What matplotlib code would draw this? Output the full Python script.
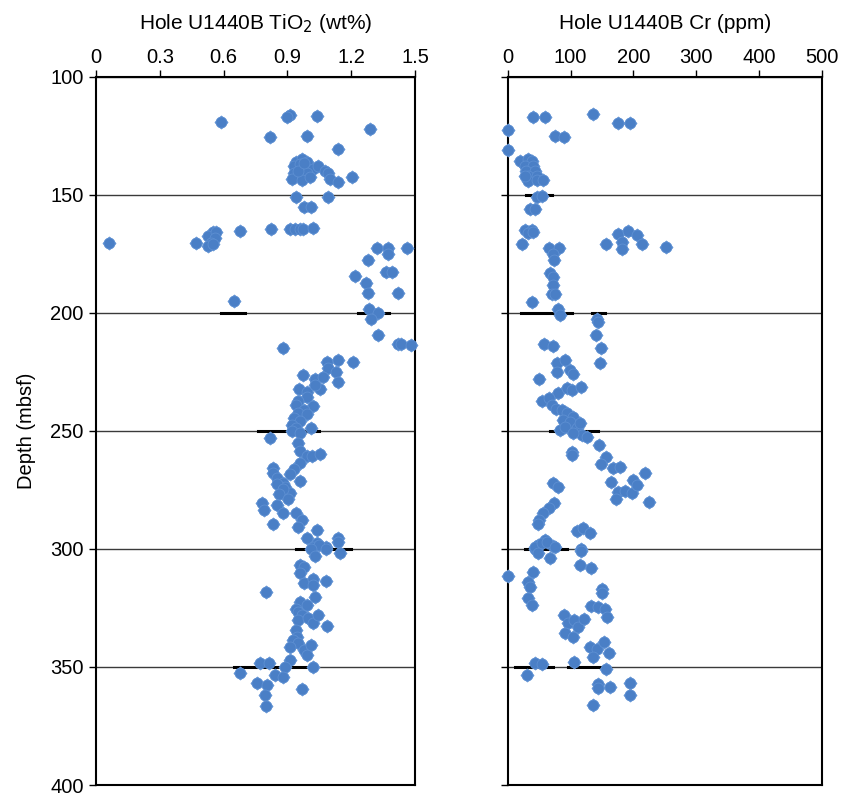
import matplotlib
matplotlib.use("Agg")
import matplotlib.pyplot as plt
from matplotlib.markers import MarkerStyle

plt.rcParams['font.family'] = ['Liberation Sans', 'DejaVu Sans']

# TiO2 samples: depth (mbsf), value (wt%)
ti_depth = [119.4, 116.3, 117, 116.6, 122.2, 125.8, 125, 130.7,
            136, 135, 136, 138, 137, 139, 139, 138, 140, 141, 141, 141.5, 141, 143.5, 144, 142.5, 143.5, 144.5, 142.5, 140, 136.5,
            150.9, 150.9, 155.4, 155.4,
            165.4, 164.7, 164.7, 164.7, 164.7, 164.4, 164,
            166, 167.5, 165.7, 168.3, 170.4, 171.8, 171, 170.6, 170.6,
            172.7, 172.7, 175, 172.7, 177.7, 184.3, 187.6, 191.5, 182.6, 182.6, 191.5, 198.6, 200.3, 202.8, 195,
            209.4, 213.3, 213.3, 213.5, 215.1, 221, 220, 221, 223.5, 225, 229.2, 226.4, 228.2, 227.4, 232.3, 232.3, 233.5, 230.5,
            235.7, 237.5, 239.2, 239.6, 241, 242.4, 243, 244.5, 246, 247.4, 248.8, 250.3, 249, 251,
            253.2, 255.3, 258.4, 260.7, 260.5, 260, 263.5, 266.3, 268.4, 265.6, 267.7, 269.8, 271.9, 274, 276.2, 271.2,
            272.6, 274.7, 276.9, 279, 280.4, 283.5, 281.4, 285, 285, 287.8, 290.6, 289.5, 291.8, 295.5, 297.6, 299, 295.5, 297.3,
            299, 298.3, 300, 300, 301.9, 303, 306.8, 307.5, 310.3, 314.6, 312.9, 315.3, 313.6, 318.1, 320.3, 322.5, 323.9,
            325.3, 326.7, 328, 330.1, 329.4, 331.5, 328, 332.6, 334.3, 337.2, 338.6, 340, 341.4, 342.8, 344.9, 340.5, 347,
            349.9, 349.9, 348.2, 348.2, 352.7, 353.4, 354.4, 356.9, 357.6, 361.8, 366.5, 359.4]
ti_value = [0.59, 0.91, 0.90, 1.04, 1.29, 0.82, 0.99, 1.14,
            0.94, 0.97, 0.99, 0.93, 0.96, 0.99, 1.02, 1.045, 1.077, 1.093, 0.93, 0.96, 0.99, 0.92, 0.967, 1.006, 1.10, 1.139, 1.202, 0.95, 0.98,
            0.94, 1.09, 0.98, 1.01,
            0.677, 0.821, 0.912, 0.936, 0.96, 0.975, 1.02,
            0.55, 0.527, 0.565, 0.56, 0.54, 0.527, 0.55, 0.47, 0.061,
            1.32, 1.372, 1.372, 1.462, 1.28, 1.218, 1.269, 1.277, 1.366, 1.394, 1.418, 1.285, 1.324, 1.293, 0.649,
            1.327, 1.418, 1.434, 1.48, 0.881, 1.088, 1.139, 1.21, 1.09, 1.13, 1.14, 0.975, 1.03, 1.066, 0.953, 1.053, 0.99, 1.03,
            0.99, 0.95, 0.94, 1.02, 0.98, 0.95, 0.99, 0.93, 0.96, 0.92, 0.94, 0.92, 1.01, 0.96,
            0.82, 0.95, 0.96, 0.99, 1.014, 1.053, 0.96, 0.93, 0.91, 0.83, 0.83, 0.85, 0.88, 0.89, 0.91, 0.96,
            0.85, 0.88, 0.86, 0.905, 0.78, 0.79, 0.85, 0.88, 0.94, 0.97, 0.95, 0.83, 1.037, 0.99, 1.04, 1.08, 1.14, 1.14,
            1.02, 1.05, 1.01, 1.08, 1.147, 1.03, 0.96, 0.98, 0.96, 0.98, 1.02, 1.02, 1.08, 0.80, 1.03, 0.96, 0.99,
            0.94, 0.95, 0.967, 0.951, 0.998, 1.022, 1.045, 1.085, 0.94, 0.944, 0.928, 0.951, 0.912, 0.98, 0.99, 1.01, 0.91,
            0.89, 1.02, 0.771, 0.815, 0.677, 0.842, 0.881, 0.755, 0.802, 0.795, 0.80, 0.971]

# Cr samples: depth (mbsf), value (ppm)
cr_depth = [122.6, 131.1, 117.3, 117.3, 115.9, 119.5, 119.5, 125.2, 125.8,
            135.6, 135, 135.6, 137.7, 137.7, 139.8, 139.8, 142, 142, 144.4, 143.8, 143.8, 142,
            151.2, 150.6, 156.3, 156.3, 164.8, 164.8, 166.2, 165.8, 170.9,
            172.7, 172.7, 175, 177.7, 171, 166.7, 165.3, 167.1, 170.9, 169.9, 173, 172.3,
            183.3, 184.7, 188.3, 192.1, 192.1, 195.6, 198.6, 201, 202.8,
            203.8, 209.4, 215.1, 221.4, 213.3, 214.1, 221.2, 220, 225, 224.3, 226, 228.2, 233.9, 232, 232.7, 231.6,
            237.2, 236.2, 239.1, 240.9, 241.2, 242.6, 244, 245.4, 246.2, 249.7, 248.3, 249, 246.8, 251.8, 252.5, 251.1,
            258.8, 260.3, 256, 261.2, 264.1, 265.9, 265.2, 271.5, 275.8, 275.4, 276.5, 279, 270.8, 272.9, 268, 280,
            272.2, 273.7, 280.7, 282.8, 284.9, 287.8, 289.5, 292.3, 291.3, 293.4, 296.2, 298.3, 300.2, 298.8, 300,
            299, 297.6, 297.3, 299, 301.9, 304, 300.8, 306.8, 308.2, 311.5,
            309.9, 313.9, 316, 321, 323.8, 317.1, 318.8, 324.2, 324.8, 325.6, 328.7,
            328, 331.5, 330.1, 333.2, 329.7, 335.7, 337.4, 341.4, 342.4, 339.6, 344, 345.7,
            348.4, 348.7, 353.4, 347.8, 351, 357.2, 358.3, 356.6, 361.8, 366.1, 359]
cr_value = [0, 0, 41, 59, 136, 176, 194, 75, 90,
            20, 33, 38, 28, 41, 30, 43, 33, 46, 33, 46, 57, 27,
            46, 54, 35, 43, 27.5, 38, 33, 41, 23,
            66, 82, 72, 74, 156, 176, 192, 205, 213, 181, 181, 251,
            67, 72, 72, 70, 76, 38, 80, 84, 142,
            143, 140, 148, 147, 58, 72, 79, 91, 79, 99, 104, 50, 80, 94, 102, 116,
            54, 65, 70, 77, 86, 94, 104, 88, 99, 83, 91, 110, 115, 118, 126, 104,
            102, 102, 145, 156, 149, 168, 178, 164, 176, 186, 197, 173, 200, 205, 219, 224,
            72, 80, 74, 65, 57, 50, 49, 110, 120, 131, 59, 49, 43, 72, 116,
            43, 54, 62, 75, 49, 68, 116, 115, 132, 0,
            41, 33, 35.5, 33, 38, 150, 150, 133, 144, 155, 158,
            89.5, 96, 105, 112, 121, 91, 104, 131, 142, 153, 161, 136,
            43, 55, 31, 105, 157, 144, 163, 194, 194, 136, 144]

# short dark dashes sitting on the depth gridlines: (depth, from, to)
ti_dashes = [(200, 0.59, 0.70), (200, 1.23, 1.38), (250, 0.76, 1.05), (300, 0.94, 1.20), (350, 0.65, 0.99)]
cr_dashes = [(150, 30, 70), (200, 22, 59), (200, 64, 102), (200, 134, 155), (250, 67, 144),
             (300, 28, 95), (350, 12, 72), (350, 96, 155)]

depth_ticks = [100, 150, 200, 250, 300, 350, 400]

fig = plt.figure(figsize=(8.46, 7.97), dpi=100)
ax1 = fig.add_axes([0.1135, 0.015, 0.377, 0.889])
ax2 = fig.add_axes([0.600, 0.015, 0.372, 0.889])

FS = 14.5
dot_color = '#4a7fc6'
diamond = MarkerStyle('D', joinstyle='round')

for ax, depth, vals, dashes, xmax, xticks, title in [
        (ax1, ti_depth, ti_value, ti_dashes, 1.5, [0, 0.3, 0.6, 0.9, 1.2, 1.5], 'Hole U1440B TiO$_2$ (wt%)'),
        (ax2, cr_depth, cr_value, cr_dashes, 500, [0, 100, 200, 300, 400, 500], 'Hole U1440B Cr (ppm)')]:
    ax.set_ylim(400, 100)
    ax.set_xlim(0, xmax)
    ax.set_yticks(depth_ticks)
    ax.set_xticks(xticks)
    ax.set_xticklabels([('%g' % t) for t in xticks])
    ax.xaxis.tick_top()
    ax.grid(axis='y', color='#3a3a3a', linewidth=1.0, zorder=1)
    for d, a, b in dashes:
        ax.plot([a, b], [d, d], color='black', linewidth=2.2, zorder=2)
    # rounded diamond look: a small diamond over a round dot
    ax.scatter(vals, depth, marker=diamond, s=42, facecolor=dot_color, edgecolor='#6a9ad6',
               linewidths=0.8, zorder=3, clip_on=False)
    ax.scatter(vals, depth, marker='o', s=62, facecolor=dot_color, edgecolor='#5d8fd2',
               linewidths=0.6, zorder=4, clip_on=False)
    ax.tick_params(axis='x', direction='out', length=5, width=1, pad=2, labelsize=FS)
    ax.tick_params(axis='y', direction='out', length=5, width=1, pad=4, labelsize=FS)
    for sp in ax.spines.values():
        sp.set_linewidth(1.5)
    ax.set_title(title, fontsize=15, pad=34)

ax1.set_ylabel('Depth (mbsf)', fontsize=FS, labelpad=10)
ax2.set_yticklabels([])

fig.savefig('out.png', dpi=100)
